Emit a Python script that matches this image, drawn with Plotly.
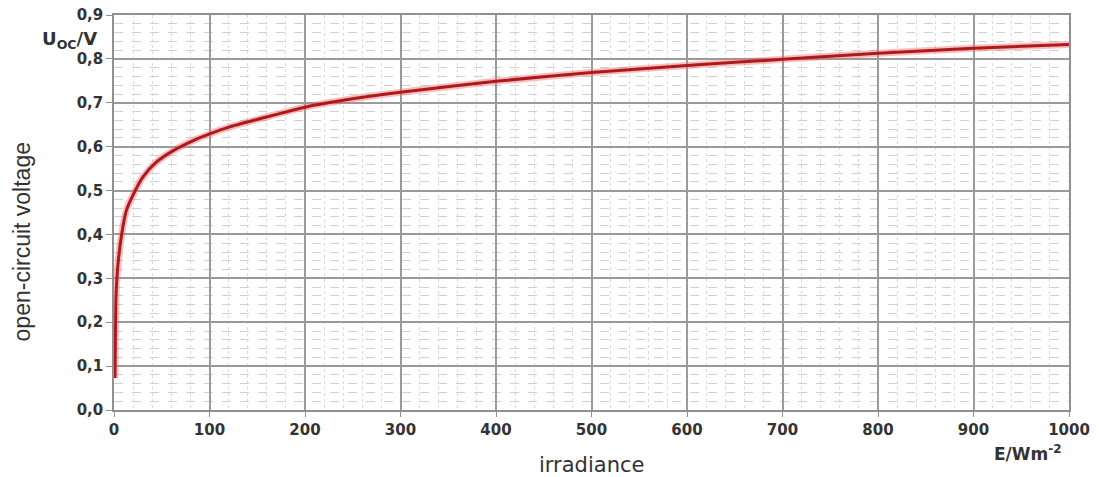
import plotly.graph_objects as go

irradiance = [1, 1.5, 2, 3, 4.5, 8, 13, 20, 30, 44, 62, 83, 100, 121, 150,
              200, 250, 300, 400, 500, 600, 700, 800, 900, 1000]
voltage = [0.073, 0.17, 0.25, 0.30, 0.34, 0.40, 0.455, 0.49, 0.53, 0.564, 0.591,
           0.614, 0.629, 0.645, 0.662, 0.690, 0.709, 0.724, 0.749, 0.769, 0.785,
           0.799, 0.813, 0.824, 0.833]

x_ticks = list(range(0, 1001, 100))
y_ticks = [round(i * 0.1, 1) for i in range(10)]

fig = go.Figure()
fig.add_trace(go.Scatter(x=irradiance, y=voltage, mode="lines",
                         line=dict(color="rgba(240,110,110,0.45)", width=7, shape="spline", smoothing=0.6),
                         hoverinfo="skip", showlegend=False))
fig.add_trace(go.Scatter(x=irradiance, y=voltage, mode="lines",
                         line=dict(color="#ad1a1e", width=3, shape="spline", smoothing=0.6),
                         showlegend=False))

tickfont = dict(family="DejaVu Sans, sans-serif", size=15, color="#333333", weight="bold")

fig.update_layout(
    width=1099, height=477,
    margin=dict(l=114, r=30, t=15, b=67),
    paper_bgcolor="white", plot_bgcolor="white",
    separators=",.",
    xaxis=dict(range=[0, 1000], tickvals=x_ticks, tickfont=tickfont, automargin=False,
               showgrid=True, gridcolor="#9a9a9a", gridwidth=2,
               ticks="outside", ticklen=5, tickcolor="#909090",
               showline=True, linecolor="#909090", linewidth=1.5, mirror=True,
               zeroline=False, fixedrange=True,
               minor=dict(dtick=20, showgrid=True, gridcolor="#dadada", gridwidth=1, griddash="dot")),
    yaxis=dict(range=[0, 0.9], tickvals=y_ticks, tickformat=".1f", tickfont=tickfont, automargin=False,
               showgrid=True, gridcolor="#9a9a9a", gridwidth=1.5,
               ticks="outside", ticklen=6, tickcolor="#909090",
               showline=True, linecolor="#909090", linewidth=1.5, mirror=True,
               zeroline=False, fixedrange=True,
               minor=dict(dtick=0.02, showgrid=True, gridcolor="#d0d0d0", gridwidth=1, griddash="dash")),
)

fig.add_annotation(text="<b>U<sub>OC</sub>/V</b>", xref="paper", yref="paper",
                   x=-0.016, y=0.937, xanchor="right", yanchor="middle", showarrow=False,
                   font=dict(family="DejaVu Sans, sans-serif", size=18, color="#333333"))
fig.add_annotation(text="open-circuit voltage", xref="paper", yref="paper",
                   x=-0.096, y=0.425, textangle=-90, xanchor="center", yanchor="middle", showarrow=False,
                   font=dict(family="Liberation Sans, Arial, sans-serif", size=23, color="#333333"))
fig.add_annotation(text="irradiance", xref="paper", yref="paper",
                   x=0.5, y=-0.105, xanchor="center", yanchor="top", showarrow=False,
                   font=dict(family="DejaVu Sans, sans-serif", size=21, color="#333333"))
fig.add_annotation(text="<b>E/Wm<sup>-2</sup></b>", xref="paper", yref="paper",
                   x=0.957, y=-0.075, xanchor="center", yanchor="top", showarrow=False,
                   font=dict(family="DejaVu Sans, sans-serif", size=17, color="#333333"))

fig.write_html("out.html", config={"displayModeBar": False},
               post_script="document.body.style.margin='0';document.body.style.overflow='hidden';")
